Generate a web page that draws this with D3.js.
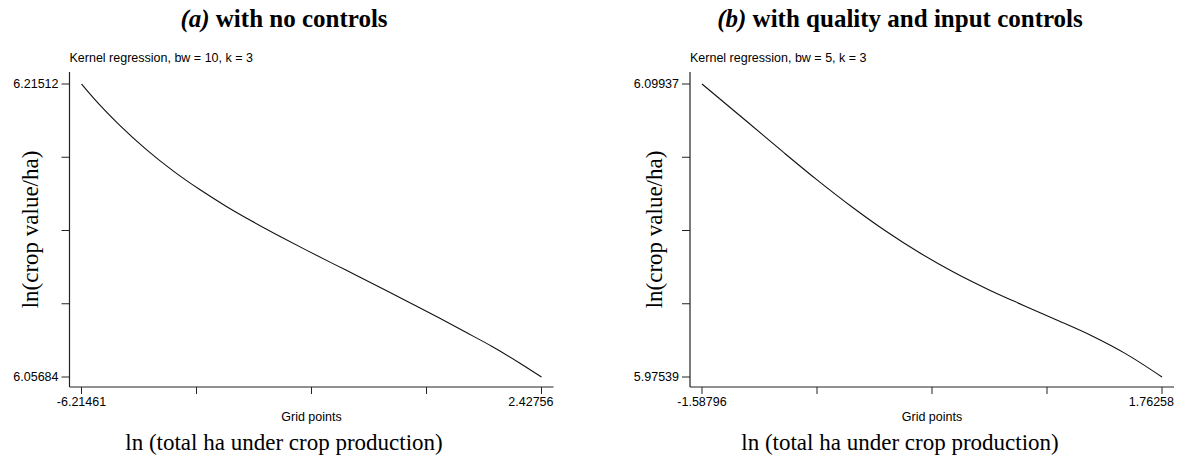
<!DOCTYPE html>
<html lang="en">

<head>
  <meta charset="UTF-8">
  <meta name="viewport" content="width=device-width, initial-scale=1.0">
  <title>Kernel regression</title>
  <script src="https://d3js.org/d3.v7.min.js"></script>
  <style>
    body { margin: 0; background: #fff; }
    svg { display: block; }
  </style>
</head>

<body>
  <script>
    // grid points and fitted ln(crop value/ha)
    const gridA = [-6.21461, -6.0, -5.5, -5.0, -4.5, -4.0, -3.5, -3.0, -2.5, -2.0,
      -1.5, -1.0, -0.5, 0.0, 0.5, 1.0, 1.5, 2.0, 2.42756]
    const fitA = [6.21512, 6.20792, 6.19292, 6.17982, 6.16832, 6.15822, 6.14912, 6.14082, 6.13302, 6.12552,
      6.11822, 6.11102, 6.10372, 6.09632, 6.08882, 6.08112, 6.07332, 6.06472, 6.05684]

    const gridB = [-1.58796, -1.25, -1.0, -0.75, -0.5, -0.25, 0.0, 0.25, 0.5, 0.75,
      1.0, 1.25, 1.5, 1.76258]
    const fitB = [6.09937, 6.08298, 6.07073, 6.05879, 6.04754, 6.03716, 6.02785, 6.01960, 6.01235, 6.00579,
      5.99941, 5.99285, 5.98517, 5.97539]

    // only the two end ticks carry a label
    const xTickLabelsA = ['-6.21461', '2.42756']
    const yTickLabelsA = ['6.05684', '6.21512']
    const xTickLabelsB = ['-1.58796', '1.76258']
    const yTickLabelsB = ['5.97539', '6.09937']

    const panelTags = ['(a)', '(b)']
    const panelTitles = [' with no controls', ' with quality and input controls']
    const subtitles = ['Kernel regression, bw = 10, k = 3', 'Kernel regression, bw = 5, k = 3']
    const yTitle = 'ln(crop value/ha)'
    const xTitle = 'Grid points'
    const noteTitle = 'ln (total ha under crop production)'

    const W = 1177, H = 459
    const sans = '"Liberation Sans", Arial, Helvetica, sans-serif'
    const serif = '"Liberation Serif", "Times New Roman", Times, serif'

    const svg = d3.select('body')
      .append('svg')
      .attr('width', W)
      .attr('height', H)

    const panels = [
      { grid: gridA, fit: fitA, xl: xTickLabelsA, yl: yTickLabelsA, left: 69.5, center: 284, yTitleX: 38 },
      { grid: gridB, fit: fitB, xl: xTickLabelsB, yl: yTickLabelsB, left: 690, center: 900, yTitleX: 662 }
    ]

    const plotW = 484, plotTop = 72, plotBottom = 387, pad = 12, yTop = 84, yBot = 377

    panels.forEach(function (p, i) {
      const g = svg.append('g')
      const x0 = p.left, x1 = p.left + plotW

      const x = d3.scaleLinear()
        .domain(d3.extent(p.grid))
        .range([x0 + pad, x1 - pad])
      const y = d3.scaleLinear()
        .domain(d3.extent(p.fit))
        .range([yBot, yTop])

      // 5 evenly spaced ticks, labels only at both ends
      const xTicks = d3.range(5).map(function (k) { return x.domain()[0] + k * (x.domain()[1] - x.domain()[0]) / 4 })
      const yTicks = d3.range(5).map(function (k) { return y.domain()[0] + k * (y.domain()[1] - y.domain()[0]) / 4 })

      // axis lines
      g.append('line')
        .attr('x1', x0).attr('x2', x0).attr('y1', plotTop).attr('y2', plotBottom)
        .attr('stroke', '#222').attr('stroke-width', 1.2)
      g.append('line')
        .attr('x1', x0).attr('x2', x1).attr('y1', plotBottom).attr('y2', plotBottom)
        .attr('stroke', '#222').attr('stroke-width', 1.2)

      g.selectAll('.ytick')
        .data(yTicks)
        .enter()
        .append('line')
        .attr('x1', x0 - 8).attr('x2', x0)
        .attr('y1', function (d) { return y(d) })
        .attr('y2', function (d) { return y(d) })
        .attr('stroke', '#222').attr('stroke-width', 1)

      g.selectAll('.xtick')
        .data(xTicks)
        .enter()
        .append('line')
        .attr('x1', function (d) { return x(d) })
        .attr('x2', function (d) { return x(d) })
        .attr('y1', plotBottom).attr('y2', plotBottom + 7)
        .attr('stroke', '#222').attr('stroke-width', 1)

      // end labels
      g.selectAll('.ylab')
        .data(y.domain())
        .enter()
        .append('text')
        .attr('x', x0 - 11)
        .attr('y', function (d) { return y(d) })
        .attr('dy', '0.35em')
        .attr('text-anchor', 'end')
        .style('font-family', sans).style('font-size', '12.5px')
        .text(function (d, k) { return p.yl[k] })

      g.selectAll('.xlab')
        .data(x.domain())
        .enter()
        .append('text')
        .attr('x', function (d, k) { return k === 0 ? x(d) : x1 })
        .attr('y', 406)
        .attr('text-anchor', function (d, k) { return k === 0 ? 'middle' : 'end' })
        .style('font-family', sans).style('font-size', '12.5px')
        .text(function (d, k) { return p.xl[k] })

      g.append('text')
        .attr('x', (x0 + x1) / 2).attr('y', 421)
        .attr('text-anchor', 'middle')
        .style('font-family', sans).style('font-size', '12.5px')
        .text(xTitle)

      g.append('text')
        .attr('x', x0).attr('y', 62)
        .style('font-family', sans).style('font-size', '12.5px')
        .text(subtitles[i])

      g.append('text')
        .attr('transform', 'translate(' + p.yTitleX + ',' + (plotTop + plotBottom) / 2 + ') rotate(-90)')
        .attr('text-anchor', 'middle')
        .style('font-family', serif).style('font-size', '23px')
        .text(yTitle)

      const title = g.append('text')
        .attr('x', p.center).attr('y', 27)
        .attr('text-anchor', 'middle')
        .style('font-family', serif).style('font-size', '25px').style('font-weight', 'bold')
      title.append('tspan').style('font-style', 'italic').text(panelTags[i])
      title.append('tspan').text(panelTitles[i])

      g.append('text')
        .attr('x', p.center).attr('y', 450)
        .attr('text-anchor', 'middle')
        .style('font-family', serif).style('font-size', '23px')
        .text(noteTitle)

      // the fitted curve
      const line = d3.line()
        .x(function (d) { return x(d[0]) })
        .y(function (d) { return y(d[1]) })
        .curve(d3.curveMonotoneX)

      g.append('path')
        .datum(d3.zip(p.grid, p.fit))
        .attr('d', line)
        .attr('fill', 'none')
        .attr('stroke', '#111')
        .attr('stroke-width', 1.1)
    })
  </script>
</body>

</html>
